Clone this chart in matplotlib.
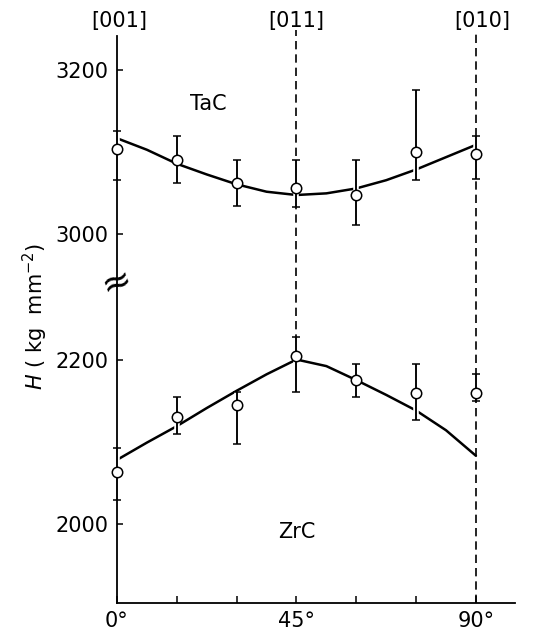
import numpy as np
import matplotlib.pyplot as plt
import matplotlib.patheffects as pe

# measured hardness vs angle from [001]
angles = [0, 15, 30, 45, 60, 75, 90]
tac_h = [3104, 3090, 3063, 3056, 3048, 3100, 3098]
tac_hi = [3126, 3120, 3091, 3091, 3091, 3176, 3120]
tac_lo = [3066, 3063, 3035, 3034, 3011, 3066, 3068]
zrc_h = [2063, 2130, 2145, 2204, 2175, 2159, 2159]
zrc_hi = [2093, 2155, 2161, 2227, 2194, 2195, 2183]
zrc_lo = [2029, 2109, 2097, 2161, 2155, 2127, 2149]

# fitted curves
fit_angles = [0, 7.5, 15, 22.5, 30, 37.5, 45, 52.5, 60, 67.5, 75, 82.5, 90]
tac_fit = [3117, 3103, 3086, 3073, 3061, 3052, 3048, 3050, 3056, 3066, 3079, 3094, 3109]
zrc_fit = [2078, 2099, 2119, 2141, 2162, 2182, 2200, 2192, 2175, 2157, 2138, 2114, 2083]

# broken axis: the TaC range is shifted down onto the ZrC scale
OFFSET = 648
ytick_vals = [2000, 2200, 3000, 3200]
ytick_labels = ['2000', '2200', '3000', '3200']
directions = ['[001]', '[011]', '[010]']

def shift(v):
    return np.array(v) - OFFSET

fig = plt.figure(figsize=(5.34, 6.43), dpi=100)
ax = fig.add_axes([117/534, 1 - 603/643, (515 - 117)/534, (603 - 30)/643])
ax.set_xlim(0, 99.8)
ax.set_ylim(1904, 2600.6)

for s in ['top', 'right']:
    ax.spines[s].set_visible(False)
for s in ['left', 'bottom']:
    ax.spines[s].set_linewidth(1.3)
ax.spines['left'].set_bounds(1904, 2593)

# dashed guide lines
ax.vlines(45, zrc_h[3], 2600.6, colors='k', linestyles=(0, (5, 3)), lw=1.2, zorder=1)
ax.vlines(90, 1904, 2600.6, colors='k', linestyles=(0, (5, 3)), lw=1.2, zorder=1)

# fit curves
for fit in [shift(tac_fit), zrc_fit]:
    ax.plot(fit_angles, fit, color='k', lw=1.8, zorder=2,
            solid_joinstyle='round', solid_capstyle='round')

white = [pe.withStroke(linewidth=4, foreground='white')]
for h, hi, lo, off in [(tac_h, tac_hi, tac_lo, OFFSET), (zrc_h, zrc_hi, zrc_lo, 0)]:
    h = np.array(h) - off
    yerr = [h - (np.array(lo) - off), (np.array(hi) - off) - h]
    eb = ax.errorbar(angles, h, yerr=yerr, fmt='none', ecolor='k', elinewidth=1.1,
                     capsize=3, capthick=1.1, zorder=3)
    for ln in eb[2]:
        ln.set_path_effects(white + [pe.Normal()])
        ln.set_clip_on(False)
    for cap in eb[1]:
        cap.set_clip_on(False)
    ax.plot(angles, h, 'o', ms=7.5, mfc='white', mec='k', mew=1.1, zorder=4,
            clip_on=False)

ax.set_yticks([v - OFFSET if v >= 3000 else v for v in ytick_vals])
ax.set_yticklabels(ytick_labels)
ax.set_xticks(angles)
ax.set_xticklabels(['0°', '', '', '45°', '', '', '90°'])
ax.tick_params(direction='in', length=5, width=1.1, labelsize=15, pad=6)
ax.tick_params(axis='y', length=4)

ax.set_ylabel(r'$H$ ( kg  mm$^{-2}$)', fontsize=15, labelpad=4)

# axis break mark
ax.text(0, 2293, '≈', fontsize=26, ha='center', va='center', rotation=20)

for x, lab in zip([0.5, 45, 91.5], directions):
    ax.text(x, 2612, lab, fontsize=15, ha='center', va='center', clip_on=False)

ax.text(23, 3159 - OFFSET, 'TaC', fontsize=15, ha='center', va='center')
ax.text(45, 1990, 'ZrC', fontsize=15, ha='center', va='center')

fig.savefig('out.png', dpi=100)
